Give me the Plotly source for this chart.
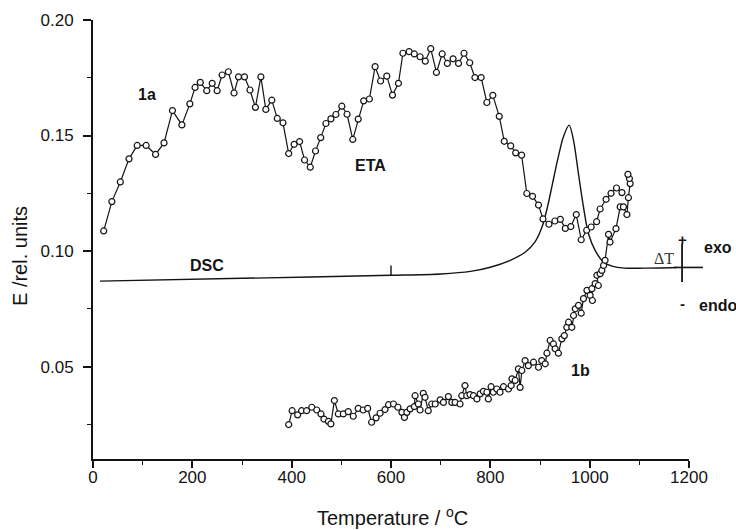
import plotly.graph_objects as go

# ---------------- data ----------------
eta1a_T = [21.5, 38, 55, 72.5, 89, 107, 126, 143, 160, 179, 195, 205.5, 216, 229, 240, 250, 260, 272.5,
           284, 293, 305, 316, 327, 338, 348, 360, 371, 382.5, 394, 405, 416, 426, 437.5, 448, 458.5,
           469, 479, 489, 501, 511.5, 523, 534, 545, 556.5, 568, 579, 591.5, 603, 615, 624, 636.5,
           647, 658.5, 669, 680, 691.5, 703, 713.5, 725, 736, 747, 758.5, 769, 781.5, 793, 805, 818,
           828, 841, 851, 863, 873.5, 885, 897, 906, 918, 930, 941, 951, 962, 973, 983, 994, 1003,
           1014, 1021, 1033, 1043, 1054, 1065]
eta1a_E = [0.1087, 0.1214, 0.1299, 0.1399, 0.1457, 0.1457, 0.1418, 0.1468, 0.1608, 0.1546, 0.1637,
           0.1708, 0.1730, 0.1694, 0.1726, 0.1694, 0.1762, 0.1776, 0.1684, 0.1754, 0.1754, 0.1697,
           0.1622, 0.1754, 0.1613, 0.1653, 0.1574, 0.1555, 0.1422, 0.1462, 0.1474, 0.1394, 0.1363,
           0.1433, 0.1491, 0.1552, 0.1572, 0.1591, 0.1627, 0.1592, 0.1483, 0.1571, 0.1650, 0.1658,
           0.1798, 0.1736, 0.1757, 0.1675, 0.1726, 0.1856, 0.1863, 0.1853, 0.1841, 0.1822, 0.1876,
           0.1773, 0.1853, 0.1812, 0.1832, 0.1812, 0.1856, 0.1815, 0.1751, 0.1751, 0.1643, 0.1674,
           0.1583, 0.1475, 0.1455, 0.1425, 0.1415, 0.1249, 0.1237, 0.1199, 0.1139, 0.1116, 0.1130,
           0.1137, 0.1098, 0.1106, 0.1158, 0.1049, 0.1090, 0.1104, 0.1127, 0.1182, 0.1224, 0.1250,
           0.1273, 0.1253]

eta1b_T = [394, 401, 412, 420, 430, 440.5, 450.5, 459, 465, 474, 479, 486, 494, 504, 514, 524, 534,
           544, 553, 561, 570, 578, 588, 595, 605, 614, 622, 627, 632, 638.5, 647, 648.5, 655, 658.5,
           665, 668.5, 675, 682, 689, 699, 705.5, 715.5, 722.5, 729, 739, 742.5, 749, 752.5, 759,
           766, 773, 779.5, 786, 793, 796, 801.5, 806, 813, 819.5, 826.5, 836.5, 842, 843.5, 850,
           856.5, 860, 863.5, 870, 876.5, 887, 897, 903.5, 910.5, 914, 920.5, 927, 930.5, 937, 944,
           949, 954, 957.5, 964, 967.5, 971, 977.5, 983, 987.5, 994.5, 1001, 1005.5, 1004.5, 1011,
           1017.5, 1014.5, 1021, 1024.5, 1028, 1031, 1038, 1041, 1053, 1061.5, 1068, 1075, 1078,
           1081.5, 1080, 1077]
eta1b_E = [0.0249, 0.0309, 0.0291, 0.0309, 0.0309, 0.0324, 0.0312, 0.0295, 0.0273, 0.0263, 0.0252,
           0.0353, 0.0295, 0.0295, 0.0305, 0.0285, 0.0319, 0.0312, 0.0319, 0.0259, 0.0278, 0.0298,
           0.0314, 0.0335, 0.0338, 0.0324, 0.0302, 0.0280, 0.0302, 0.0317, 0.0327, 0.0374, 0.0338,
           0.0312, 0.0384, 0.0367, 0.0309, 0.0338, 0.0338, 0.0356, 0.0345, 0.0370, 0.0345, 0.0345,
           0.0338, 0.0374, 0.0418, 0.0374, 0.0379, 0.0374, 0.0360, 0.0382, 0.0393, 0.0389, 0.0360,
           0.0413, 0.0389, 0.0403, 0.0389, 0.0413, 0.0403, 0.0418, 0.0447, 0.0440, 0.0490, 0.0410,
           0.0483, 0.0526, 0.0504, 0.0519, 0.0497, 0.0526, 0.0512, 0.0558, 0.0613, 0.0598, 0.0577,
           0.0558, 0.0620, 0.0634, 0.0670, 0.0692, 0.0670, 0.0721, 0.0750, 0.0765, 0.0731, 0.0794,
           0.0830, 0.0808, 0.0786, 0.0837, 0.0859, 0.0851, 0.0895, 0.0902, 0.0916, 0.0938, 0.0960,
           0.1072, 0.1039, 0.1097, 0.1191, 0.1191, 0.1158, 0.1231, 0.1292, 0.1314, 0.1332]

dsc_T = [14, 300, 600, 700, 760, 800, 840, 870, 890, 905, 915, 925, 935, 947, 958.7, 967.4, 977.4,
         987.5, 997.6, 1011, 1028, 1045, 1070, 1110, 1175]
dsc_E = [0.0870, 0.0882, 0.0895, 0.0901, 0.0912, 0.0930, 0.0960, 0.0995, 0.1040, 0.1110, 0.1190,
         0.1290, 0.1390, 0.1494, 0.1545, 0.1480, 0.1335, 0.1191, 0.1075, 0.1003, 0.0952, 0.0935,
         0.0926, 0.0926, 0.0929]

dsc_mark_T = [600, 600]
dsc_mark_E = [0.0895, 0.0938]

# Delta T scale bar (data units)
dT_bar_T = 1186
dT_bar_E = [0.0866, 0.1033]
dT_base_T = [1170, 1228]
dT_base_E = 0.0929

x_ticks = [0, 200, 400, 600, 800, 1000, 1200]
y_ticks = [0.05, 0.10, 0.15, 0.20]
x_range = [0, 1200]
y_range = [0.01, 0.20]

# ---------------- figure ----------------
INK = "#141414"
FONT = "Liberation Sans, Arial, sans-serif"

fig = go.Figure()

marker = dict(symbol="circle", size=6, color="white", line=dict(color=INK, width=1.2))

fig.add_trace(go.Scatter(x=dsc_T, y=dsc_E, mode="lines",
                         line=dict(color=INK, width=1.4, shape="spline", smoothing=0.8),
                         hoverinfo="skip", showlegend=False))
fig.add_trace(go.Scatter(x=dsc_mark_T, y=dsc_mark_E, mode="lines",
                         line=dict(color=INK, width=1.4), hoverinfo="skip", showlegend=False))
fig.add_trace(go.Scatter(x=eta1a_T, y=eta1a_E, mode="lines+markers",
                         line=dict(color=INK, width=1.2), marker=marker,
                         name="1a", showlegend=False, cliponaxis=False))
fig.add_trace(go.Scatter(x=eta1b_T, y=eta1b_E, mode="lines+markers",
                         line=dict(color=INK, width=1.2), marker=marker,
                         name="1b", showlegend=False, cliponaxis=False))

# convert data -> paper for the items that extend beyond the axis
def px_x(t):
    return (t - x_range[0]) / (x_range[1] - x_range[0])

def px_y(e):
    return (e - y_range[0]) / (y_range[1] - y_range[0])

fig.add_shape(type="line", xref="paper", yref="paper",
              x0=px_x(dT_base_T[0]), x1=px_x(dT_base_T[1]),
              y0=px_y(dT_base_E), y1=px_y(dT_base_E),
              line=dict(color=INK, width=1.6))
fig.add_shape(type="line", xref="paper", yref="paper",
              x0=px_x(dT_bar_T), x1=px_x(dT_bar_T),
              y0=px_y(dT_bar_E[0]), y1=px_y(dT_bar_E[1]),
              line=dict(color=INK, width=1.8))

def label(text, x, y, size=16, family=FONT, color=INK, xanchor="center"):
    fig.add_annotation(x=px_x(x), y=px_y(y), xref="paper", yref="paper", text=text,
                       showarrow=False, font=dict(family=family, size=size, color=color),
                       xanchor=xanchor, yanchor="middle")

label("<b>1a</b>", 108, 0.1678)
label("<b>ETA</b>", 558, 0.1371)
label("<b>DSC</b>", 229, 0.0938)
label("<b>1b</b>", 981, 0.0483)
label("\u0394T", 1149, 0.0967, size=16, family="Liberation Serif, Times New Roman, serif", color="#333")
label("<b>+</b>", 1186, 0.1050, size=15)
label("<b>-</b>", 1186, 0.0772, size=15)
label("<b>exo</b>", 1226, 0.1017, xanchor="left")
label("<b>endo</b>", 1216, 0.0765, xanchor="left")

fig.add_annotation(xref="paper", yref="paper", x=0.5017, y=-0.132,
                   text="Temperature / <sup>o</sup>C", showarrow=False,
                   font=dict(family=FONT, size=20, color=INK), xanchor="center", yanchor="middle")
fig.add_annotation(xref="paper", yref="paper", x=-0.1225, y=0.4624,
                   text="E /rel. units", textangle=-90, showarrow=False,
                   font=dict(family=FONT, size=20, color=INK), xanchor="center", yanchor="middle")

axis_common = dict(showline=True, linecolor=INK, linewidth=2, ticks="outside",
                   tickcolor=INK, tickwidth=1.6, showgrid=False, zeroline=False,
                   tickfont=dict(family=FONT, size=17, color=INK))

fig.update_xaxes(range=x_range, tickvals=x_ticks, ticklen=7, ticklabelstandoff=-5,
                 minor=dict(ticks="outside", dtick=100, tick0=0, ticklen=4,
                            tickcolor=INK, tickwidth=1.4, showgrid=False),
                 **axis_common)
fig.update_yaxes(range=y_range, tickvals=y_ticks, ticktext=[f"{v:.2f}" for v in y_ticks],
                 ticklen=8, ticklabelstandoff=6,
                 minor=dict(ticks="outside", dtick=0.025, tick0=0, ticklen=4,
                            tickcolor=INK, tickwidth=1.4, showgrid=False),
                 **axis_common)

fig.update_layout(width=736, height=530, margin=dict(l=93, r=47, t=20, b=71),
                  plot_bgcolor="white", paper_bgcolor="white",
                  font=dict(family=FONT, color=INK))

fig.write_html("out.html")
